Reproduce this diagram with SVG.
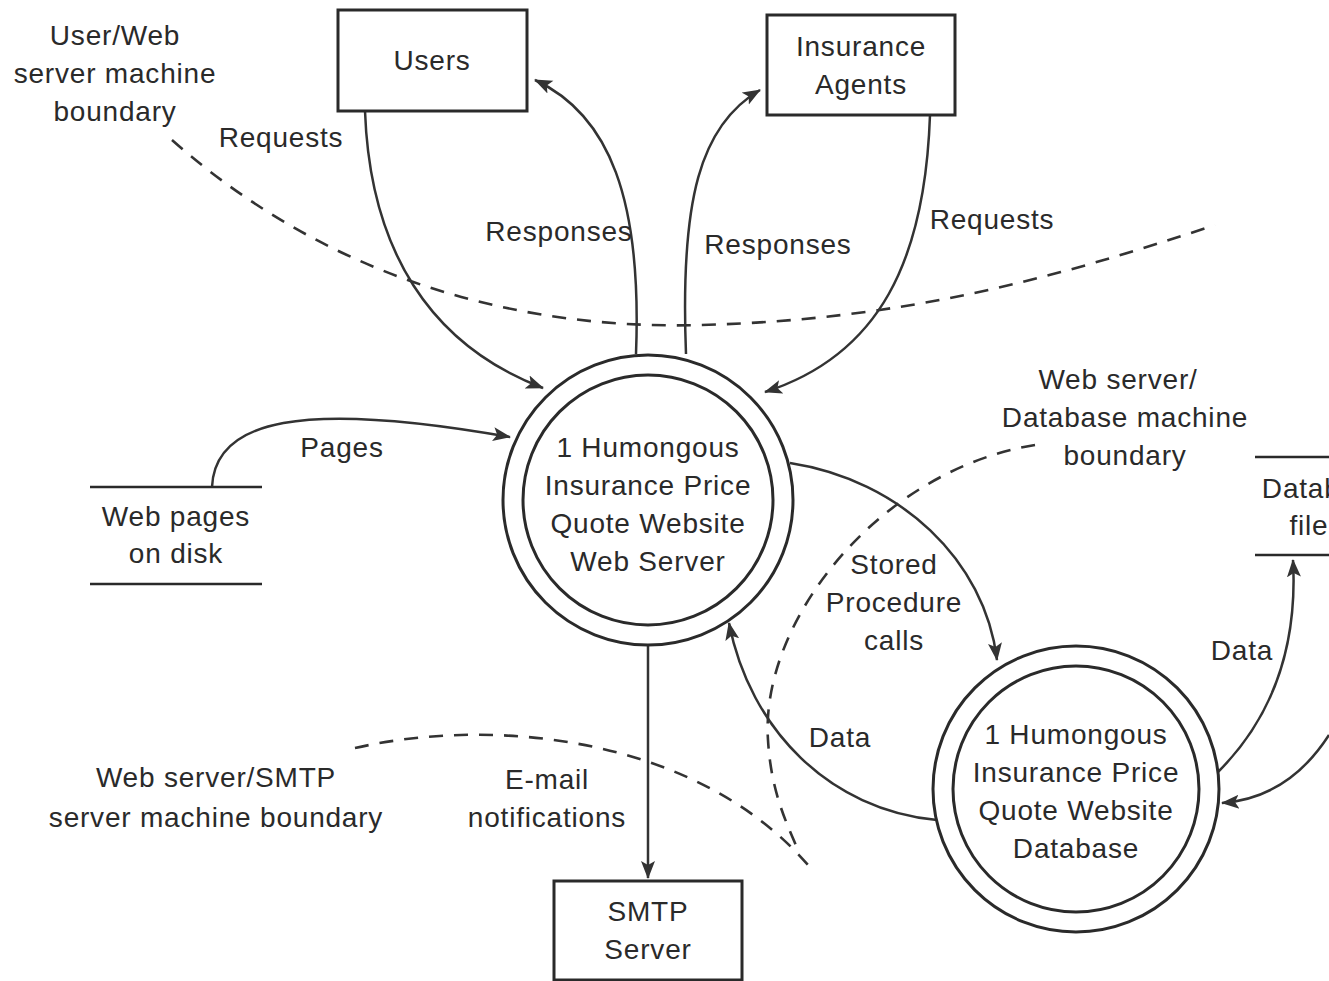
<svg xmlns="http://www.w3.org/2000/svg" width="1329" height="981" viewBox="0 0 1329 981">
<style>
text{font-family:"Liberation Sans",Arial,sans-serif;font-size:28px;letter-spacing:0.8px;fill:#2a2a2a;text-anchor:middle}
.box{fill:none;stroke:#2a2a2a;stroke-width:3}
.ln{fill:none;stroke:#2a2a2a;stroke-width:2.5}
.flow{fill:none;stroke:#333;stroke-width:2.5;marker-end:url(#ah)}
.bound{fill:none;stroke:#333;stroke-width:2.6;stroke-dasharray:14 11}
</style>
<defs>
<marker id="ah" markerUnits="userSpaceOnUse" markerWidth="20" markerHeight="16" refX="17" refY="8" orient="auto">
<path d="M0,1 L18,8 L0,15 L4,8 Z" fill="#333"/>
</marker>
</defs>
<rect width="1329" height="981" fill="#fff"/>

<g id="boundaries">
<path class="bound" d="M172,140 C330,280 520,330 700,325 C900,320 1050,280 1215,225"/>
<path class="bound" d="M1035,445 C880,470 760,620 768,740 C771,790 785,820 798,850"/>
<path class="bound" d="M355,748 C500,715 700,740 808,865"/>
</g>

<g id="connectors">
<path class="flow" d="M365,111 C370,250 430,345 543,388"/>
<path class="flow" d="M636,354 C642,200 610,115 535,80"/>
<path class="flow" d="M686,354 C680,200 700,125 760,90"/>
<path class="flow" d="M930,115 C925,260 880,355 765,392"/>
<path class="flow" d="M212,487 C215,420 300,400 510,437"/>
<path class="flow" d="M790,463 C900,480 985,560 997,660"/>
<path class="flow" d="M937,820 C830,810 750,730 729,623"/>
<path class="flow" d="M648,645 L648,878"/>
<path class="flow" d="M1218,772 C1270,720 1298,650 1293,560"/>
<path class="flow" d="M1329,735 C1300,780 1262,800 1222,803"/>
</g>

<g id="labels">
<text x="115" y="45">User/Web</text>
<text x="115" y="83">server machine</text>
<text x="115" y="121">boundary</text>
<text x="281" y="147">Requests</text>
<text x="559" y="241">Responses</text>
<text x="778" y="254">Responses</text>
<text x="992" y="229">Requests</text>
<text x="342" y="457">Pages</text>
<text x="1118" y="389">Web server/</text>
<text x="1125" y="427">Database machine</text>
<text x="1125" y="465">boundary</text>
<text x="894" y="574">Stored</text>
<text x="894" y="612">Procedure</text>
<text x="894" y="650">calls</text>
<text x="1242" y="660">Data</text>
<text x="840" y="747">Data</text>
<text x="216" y="787">Web server/SMTP</text>
<text x="216" y="827">server machine boundary</text>
<text x="547" y="789">E-mail</text>
<text x="547" y="827">notifications</text>
</g>

<g id="users">
<rect class="box" x="338" y="10" width="189" height="101"/>
<text x="432" y="70">Users</text>
</g>
<g id="agents">
<rect class="box" x="767" y="15" width="188" height="100"/>
<text x="861" y="56">Insurance</text>
<text x="861" y="94">Agents</text>
</g>
<g id="smtp">
<rect class="box" x="554" y="881" width="188" height="99"/>
<text x="648" y="921">SMTP</text>
<text x="648" y="959">Server</text>
</g>
<g id="webpages">
<line class="ln" x1="90" y1="487" x2="262" y2="487"/>
<line class="ln" x1="90" y1="584" x2="262" y2="584"/>
<text x="176" y="526">Web pages</text>
<text x="176" y="563">on disk</text>
</g>
<g id="dbfile">
<line class="ln" x1="1255" y1="457" x2="1329" y2="457"/>
<line class="ln" x1="1255" y1="555" x2="1329" y2="555"/>
<text x="1325" y="498">Database</text>
<text x="1309" y="535">file</text>
</g>
<g id="webserver">
<circle class="box" cx="648" cy="500" r="145"/>
<circle class="box" cx="648" cy="500" r="125"/>
<text x="648" y="457">1 Humongous</text>
<text x="648" y="495">Insurance Price</text>
<text x="648" y="533">Quote Website</text>
<text x="648" y="571">Web Server</text>
</g>
<g id="database">
<circle class="box" cx="1076" cy="789" r="143"/>
<circle class="box" cx="1076" cy="789" r="123"/>
<text x="1076" y="744">1 Humongous</text>
<text x="1076" y="782">Insurance Price</text>
<text x="1076" y="820">Quote Website</text>
<text x="1076" y="858">Database</text>
</g>
</svg>
